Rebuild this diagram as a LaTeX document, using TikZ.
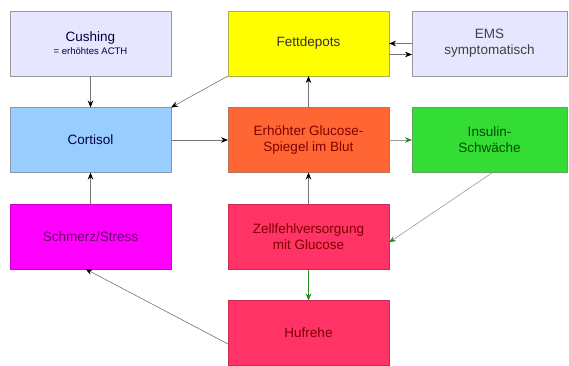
\documentclass[tikz,border=0pt]{standalone}
\usepackage{fontspec}
\setmainfont{Liberation Sans}
\usetikzlibrary{arrows.meta,positioning}

\definecolor{lavendel}{HTML}{E6E6FF}
\definecolor{hellblau}{HTML}{99CCFF}
\definecolor{gelb}{HTML}{FFFF00}
\definecolor{orangerot}{HTML}{FF6633}
\definecolor{hellgruen}{HTML}{33DD33}
\definecolor{magenta2}{HTML}{FF00FF}
\definecolor{pinkrot}{HTML}{FF3366}
\definecolor{pfeilgruen}{HTML}{228B22}

\begin{document}
\begin{tikzpicture}[
    x=1pt,
    y=1pt,
    auto,
    node distance=31.5pt and 57pt,
    font=\fontsize{13.5}{16}\selectfont,
    text centered
  ]

  \tikzstyle{box} = [rectangle, draw=gray!80, align=center, minimum width=161pt, minimum height=65pt, inner sep=0pt, outer sep=0pt]
  \tikzstyle{line} = [draw=gray!90!black, line width=0.6pt, -{Stealth[length=7pt,width=5.5pt,black]}]
  \tikzstyle{gline} = [draw=gray!80, line width=0.6pt, -{Stealth[length=7pt,width=5.5pt,pfeilgruen]}]

  \useasboundingbox (0,0) rectangle (569,-365);

  \node [box, fill=lavendel, text=black!75!blue] (cushing) at (90.5,-43.5) {Cushing\\[-3pt]{\fontsize{9.5}{10}\selectfont = erhöhtes ACTH}};
  \node [box, fill=gelb, draw=gray!60!gelb, text=black!80, right=of cushing] (fett) {Fettdepots};
  \node [box, fill=lavendel, text=black!75, minimum width=155pt, right=23pt of fett] (ems) {EMS\\symptomatisch};

  \node [box, fill=hellblau, draw=gray!70!hellblau, text=blue!30!black, below=of cushing] (cortisol) {Cortisol};
  \node [box, fill=orangerot, draw=gray!60!orangerot, text=red!50!black, below=of fett] (glucose) {Erhöhter Glucose-\\Spiegel im Blut};
  \node [box, fill=hellgruen, draw=gray!60!hellgruen, text=green!30!black, minimum width=155pt, below=of ems] (insulin) {Insulin-\\Schwäche};

  \node [box, fill=magenta2, draw=magenta2!80!black, text=violet!80!black, below=of cortisol] (schmerz) {Schmerz/Stress};
  \node [box, fill=pinkrot, draw=pinkrot!80!black, text=red!50!black, below=of glucose] (zelle) {Zellfehlversorgung\\mit Glucose};
  \node [box, fill=pinkrot, draw=pinkrot!80!black, text=red!50!black, below=of zelle] (hufrehe) {Hufrehe};

  % obere Reihe
  \path [line] (cushing) -- (cortisol);
  \path [line] (fett.south west) -- (cortisol.north east);
  \path [line] (ems.west) -- (fett.east);
  \path [line] ([yshift=-11pt]fett.east) -- ([yshift=-11pt]ems.west);

  % mittlere Reihe
  \path [line] (cortisol) -- (glucose);
  \path [line] (glucose) -- (fett);
  \path [gline] (glucose) -- (insulin);
  \path [gline] ([xshift=3pt]insulin.south) -- ([yshift=-6pt]zelle.east);

  % untere Reihe
  \path [line] (schmerz) -- (cortisol);
  \path [line] (zelle) -- (glucose);
  \path [gline, draw=pfeilgruen] (zelle) -- (hufrehe);
  \path [line] ([yshift=-11pt]hufrehe.west) -- ([xshift=-5pt]schmerz.south);

\end{tikzpicture}
\end{document}
